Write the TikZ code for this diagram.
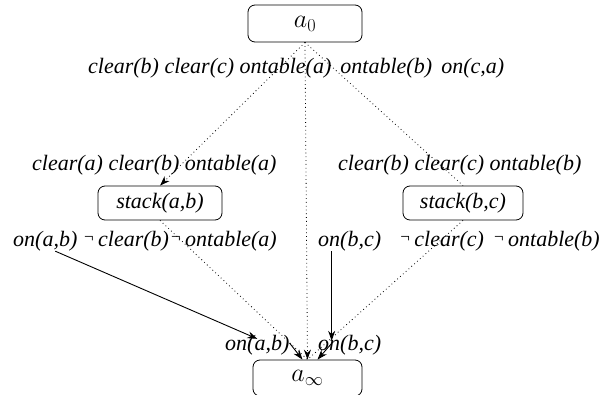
\documentclass[tikz,border=0pt]{standalone}
\usepackage{fontspec}
\setmainfont{Liberation Serif}
\usepackage{anyfontsize}
\usetikzlibrary{arrows.meta}
\newcommand{\negsym}{\raisebox{0.18em}{\fontsize{17}{20}\selectfont ¬}}

\begin{document}
\begin{tikzpicture}[x=1pt, y=-1pt]
% Styles
\tikzstyle{none} = []
\tikzstyle{action}=[draw, rounded corners=7pt, line width=0.8pt, inner sep=0pt, font=\itshape\fontsize{22}{26}\selectfont]
\tikzstyle{lit}=[inner sep=0pt, font=\itshape\fontsize{22}{26}\selectfont]
\tikzstyle{order}=[-, line width=0.8pt, dash pattern=on 0.8pt off 3pt]
\tikzstyle{orderArrow}=[order, -{Stealth[length=10pt, width=7pt]}]
\tikzstyle{link}=[-{Stealth[length=10pt, width=7pt]}, line width=0.9pt]

\useasboundingbox (0, 0) rectangle (600, 395);

\node [style=action, minimum width=114pt, minimum height=37pt, font=\fontsize{26}{30}\selectfont] (a0) at (305, 23.5) {$a_0$};
\node [style=action, minimum width=124pt, minimum height=34pt] (s1) at (160, 203) {stack(a,b)};
\node [style=action, minimum width=120pt, minimum height=34pt] (s2) at (463, 203) {stack(b,c)};
\node [style=action, minimum width=109pt, minimum height=36pt, font=\fontsize{26}{30}\selectfont] (ainf) at (307.5, 378) {$a_\infty$};

\node [style=lit, anchor=west] (eff0) at (88, 68) {clear(b) clear(c) ontable(a)\, ontable(b)\, on(c,a)};
\node [style=lit, anchor=west] (pre1) at (32, 165) {clear(a) clear(b) ontable(a)};
\node [style=lit, anchor=west] (pre2) at (338, 165) {clear(b) clear(c) ontable(b)};
\node [style=lit, anchor=west] (ea1) at (13, 241) {on(a,b)};
\node [style=lit, anchor=east] (rest1) at (277, 241) {\negsym\,clear(b)\hspace{1pt}\negsym\,ontable(a)};
\node [style=lit, anchor=west] (eb2) at (318, 241) {on(b,c)};
\node [style=lit, anchor=east] (rest2) at (600, 241) {\negsym\,clear(c)\hspace{9pt}\negsym\,ontable(b)};
\node [style=lit, anchor=west] (prea) at (225, 345) {on(a,b)};
\node [style=lit, anchor=west] (preb) at (318, 345) {on(b,c)};

\draw [style=orderArrow] (a0.south) to (s1.north);
\draw [style=order] (a0.south) to (s2.north);
\draw [style=orderArrow] (a0.south) to (ainf.north);
\draw [style=order] (s1.south) to (ainf.north);
\draw [style=order] (s2.south) to (ainf.north);
\draw [style=link] ([xshift=10pt]ea1.south) to ([yshift=-4pt]prea.north);
\draw [style=link] ([xshift=-18pt]eb2.south) to ([xshift=-18pt, yshift=-6pt]preb.north);
\draw [style=link] ([yshift=2pt]prea.east) to ([xshift=-5pt]ainf.north);
\draw [style=link] ([xshift=14pt, yshift=2pt]preb.west) to ([xshift=10pt]ainf.north);
\end{tikzpicture}
\end{document}
